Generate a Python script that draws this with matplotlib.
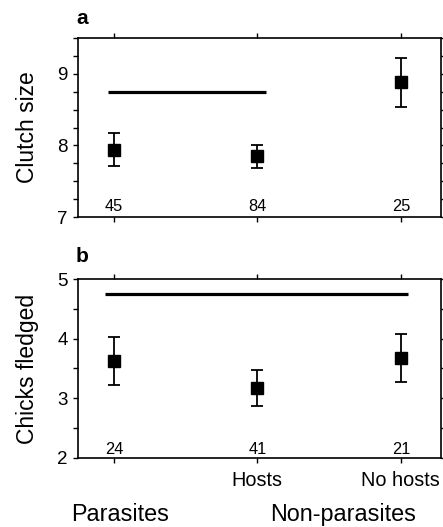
import matplotlib
matplotlib.use("Agg")
import matplotlib.pyplot as plt
from matplotlib.ticker import MultipleLocator
import matplotlib.transforms as mtransforms

plt.rcParams['font.family'] = ['Liberation Sans', 'DejaVu Sans']

# Data
categories = ['Parasites', 'Hosts', 'No hosts']
clutch_mean = [7.93, 7.85, 8.89]
clutch_upper = [8.17, 8.00, 9.22]
clutch_lower = [7.71, 7.68, 8.54]
clutch_n = ['45', '84', '25']
clutch_bar = [8.74, -0.04, 1.06]  # y, x start, x end

chicks_mean = [3.62, 3.17, 3.67]
chicks_upper = [4.02, 3.47, 4.08]
chicks_lower = [3.23, 2.87, 3.27]
chicks_n = ['24', '41', '21']
chicks_bar = [4.75, -0.06, 2.05]

xtick_labels = ['', 'Hosts', 'No hosts']
group_labels = ['Parasites', 'Non-parasites']
group_x = [0.04, 1.6]

W, H = 443, 527
fig = plt.figure(figsize=(W / 100, H / 100), dpi=100)

def px_axes(left, top, right, bottom):
    return fig.add_axes([left / W, 1 - bottom / H, (right - left) / W, (bottom - top) / H])

axa = px_axes(78, 38, 441, 217)
axb = px_axes(78, 279, 441, 458)

x = list(range(len(categories)))

def draw(ax, mean, up, lo, n, bar, ylim, major, minor, ny, ylabel):
    yerr = [[m - l for m, l in zip(mean, lo)], [u - m for m, u in zip(mean, up)]]
    ax.errorbar(x, mean, yerr=yerr, fmt='s', color='black', ms=8,
                capsize=4.5, elinewidth=1.3, capthick=1.3)
    ax.plot([bar[1], bar[2]], [bar[0], bar[0]], color='black', lw=2.3, solid_capstyle='butt')
    ax.set_xlim(-0.25, 2.28)
    ax.set_ylim(*ylim)
    ax.yaxis.set_major_locator(MultipleLocator(major))
    ax.yaxis.set_minor_locator(MultipleLocator(minor))
    ax.set_xticks(x)
    ax.tick_params(axis='both', which='both', direction='out', length=3.5, width=1,
                   top=True, right=True, labelsize=13.5)
    ax.tick_params(axis='y', pad=4)
    for i, t in enumerate(n):
        ax.text(x[i], ny, t, ha='center', va='center', fontsize=11.8)
    for s in ax.spines.values():
        s.set_linewidth(1.2)
    ax.set_ylabel(ylabel, fontsize=16.5)
    ax.yaxis.set_label_coords(-0.108, 0.5)

draw(axa, clutch_mean, clutch_upper, clutch_lower, clutch_n, clutch_bar,
     (7, 9.5), 1, 0.25, 7.14, 'Clutch size')
draw(axb, chicks_mean, chicks_upper, chicks_lower, chicks_n, chicks_bar,
     (2, 5), 1, 0.5, 2.15, 'Chicks fledged')

axa.set_xticklabels([])
axb.set_xticklabels(xtick_labels, fontsize=14.3)
axb.tick_params(axis='x', pad=6)

trans = mtransforms.blended_transform_factory(axb.transData, axb.transAxes)
for gx, gl in zip(group_x, group_labels):
    axb.text(gx, -0.318, gl, transform=trans, ha='center', va='center', fontsize=16.8)

fig.text(76 / W, 1 - 18.5 / H, 'a', ha='left', va='center', fontsize=15, fontweight='heavy')
fig.text(76 / W, 1 - 257 / H, 'b', ha='left', va='center', fontsize=15, fontweight='heavy')

fig.savefig('out.png', dpi=100)
